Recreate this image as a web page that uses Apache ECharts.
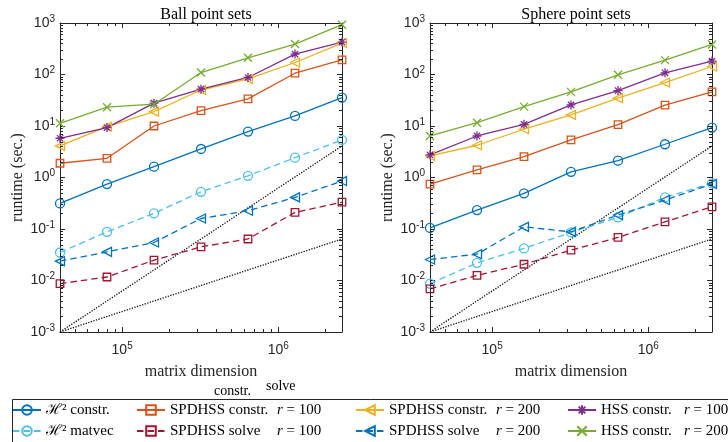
<!DOCTYPE html>
<html><head><meta charset="utf-8">
<script src="https://cdn.jsdelivr.net/npm/echarts@6/dist/echarts.min.js"></script>
<style>html,body{margin:0;padding:0;background:#fff}#c{width:728px;height:442px}</style>
</head><body><div id="c"></div>
<script>
// ---- data ----
const N = [40000, 80000, 160000, 320000, 640000, 1280000, 2560000];
// Ball point sets
const ballH2Constr     = [0.314, 0.746, 1.62, 3.58, 7.78, 15.7, 35.7];
const ballH2Matvec     = [0.035, 0.088, 0.201, 0.528, 1.08, 2.43, 5.36];
const ballSpdConstr100 = [1.89, 2.36, 10.0, 19.9, 33.6, 106, 193];
const ballSpdSolve100  = [0.0087, 0.0117, 0.0248, 0.045, 0.064, 0.21, 0.333];
const ballSpdConstr200 = [4.1, 9.7, 19, 50, 82, 171, 408];
const ballSpdSolve200  = [0.0237, 0.036, 0.0547, 0.16, 0.226, 0.411, 0.853];
const ballHss100       = [5.78, 9.3, 27.8, 52, 87.5, 249, 427];
const ballHss200       = [11.3, 23.2, 26.5, 109, 211, 390, 927];
// Sphere point sets
const sphH2Constr      = [0.105, 0.233, 0.492, 1.29, 2.12, 4.42, 9.3];
const sphH2Matvec      = [0.0087, 0.022, 0.042, 0.0857, 0.168, 0.411, 0.77];
const sphSpdConstr100  = [0.746, 1.40, 2.54, 5.36, 10.6, 25.4, 46];
const sphSpdSolve100   = [0.00686, 0.0126, 0.0207, 0.0388, 0.0685, 0.138, 0.27];
const sphSpdConstr200  = [2.62, 4.23, 8.65, 16.4, 34.7, 69.8, 143];
const sphSpdSolve200   = [0.0256, 0.0324, 0.110, 0.088, 0.186, 0.365, 0.746];
const sphHss100        = [2.74, 6.4, 10.8, 25.7, 48.8, 108, 182];
const sphHss200        = [6.4, 11.6, 23.8, 46, 98.6, 190, 383];
// reference slopes (dotted)
const refX    = [40000, 2560000];
const refQuad = [0.001, 4.096];
const refLin  = [0.001, 0.064];
const titles  = ['Ball point sets', 'Sphere point sets'];
const X_MIN = 40000, X_MAX = 2560000, Y_MIN = 0.001, Y_MAX = 1000;

// ---- styles ----
const SERIF = 'Liberation Serif';
const SANS = 'Liberation Sans';
const AX = '#262626';
const TRI = 'path://M0,5L9,0L9,10Z';
const STAR = 'path://M5,0L5,10M0,5L10,5M1.5,1.5L8.5,8.5M1.5,8.5L8.5,1.5';
const XMARK = 'path://M0,0L10,10M0,10L10,0';

const specs = [
  {name:'H2c',    ball:ballH2Constr,     sph:sphH2Constr,     color:'#0072BD', dash:false, symbol:'circle', size:9},
  {name:'H2m',    ball:ballH2Matvec,     sph:sphH2Matvec,     color:'#4DBEEE', dash:true,  symbol:'circle', size:9},
  {name:'S100c',  ball:ballSpdConstr100, sph:sphSpdConstr100, color:'#D95319', dash:false, symbol:'rect',   size:7.5},
  {name:'S100s',  ball:ballSpdSolve100,  sph:sphSpdSolve100,  color:'#A2142F', dash:true,  symbol:'rect',   size:7.5},
  {name:'S200c',  ball:ballSpdConstr200, sph:sphSpdConstr200, color:'#EDB120', dash:false, symbol:TRI,      size:9},
  {name:'S200s',  ball:ballSpdSolve200,  sph:sphSpdSolve200,  color:'#0072BD', dash:true,  symbol:TRI,      size:9},
  {name:'HSS100', ball:ballHss100,       sph:sphHss100,       color:'#7E2F8E', dash:false, symbol:STAR,     size:9},
  {name:'HSS200', ball:ballHss200,       sph:sphHss200,       color:'#77AC30', dash:false, symbol:XMARK,    size:8}
];
const legendText = {
  H2c: 'ℋ² constr.',
  H2m: 'ℋ² matvec',
  S100c: '{p|SPDHSS constr.}{i|r} = 100',
  S100s: '{p|SPDHSS solve}{i|r} = 100',
  S200c: '{p|SPDHSS constr.}{i|r} = 200',
  S200s: '{p|SPDHSS solve}{i|r} = 200',
  HSS100: '{q|HSS constr.}{i|r} = 100',
  HSS200: '{q|HSS constr.}{i|r} = 200'
};
const legendCols = [['H2c','H2m'],['S100c','S100s'],['S200c','S200s'],['HSS100','HSS200']];
const legendLeft = [12, 136, 355, 567];

function isPow10(v){ const l = Math.log10(v); return Math.abs(l - Math.round(l)) < 1e-6; }
function powLabel(v){ return isPow10(v) ? '10{s|' + Math.round(Math.log10(v)) + '}' : ''; }
const labelRich = { s: {fontSize: 10, lineHeight: 10, verticalAlign: 'top', fontFamily: SANS, color: AX} };

const grids = [
  {left: 60, top: 23, width: 282, height: 309},
  {left: 430, top: 23, width: 282, height: 309}
];
const xAxes = [], yAxes = [];
grids.forEach((g, gi) => {
  ['bottom','top'].forEach((pos, k) => {
    xAxes.push({
      type: 'log', logBase: 10, gridIndex: gi, position: pos, min: X_MIN, max: X_MAX,
      name: k === 0 ? 'matrix dimension' : '', nameLocation: 'middle', nameGap: 26,
      nameTextStyle: {fontFamily: SERIF, fontSize: 16, color: AX},
      axisLine: {show: true, onZero: false, lineStyle: {color: AX, width: 1}},
      axisTick: {show: true, inside: true, length: 5, lineStyle: {color: AX}},
      axisLabel: {show: k === 0, margin: 9, formatter: powLabel, fontFamily: SANS, fontSize: 14, color: AX, lineHeight: 18, rich: labelRich},
      splitLine: {show: false}
    });
  });
  ['left','right'].forEach((pos, k) => {
    yAxes.push({
      type: 'log', logBase: 10, gridIndex: gi, position: pos, min: Y_MIN, max: Y_MAX,
      name: k === 0 ? 'runtime (sec.)' : '', nameLocation: 'middle', nameGap: 34, nameRotate: 90,
      nameTextStyle: {fontFamily: SERIF, fontSize: 16, color: AX},
      axisLine: {show: true, onZero: false, lineStyle: {color: AX, width: 1}},
      axisTick: {show: true, inside: true, length: 5, lineStyle: {color: AX}},
      axisLabel: {show: k === 0, margin: 5, formatter: powLabel, fontFamily: SANS, fontSize: 14, color: AX, lineHeight: 18, rich: labelRich},
      splitLine: {show: false}
    });
  });
});

// minor ticks (log-spaced 2..9) drawn via the axes' own coordinate system
const yMinor = [];
for (let k = -3; k < 3; k++) for (let m = 2; m <= 9; m++) yMinor.push(m * Math.pow(10, k));
const xMinor = [];
for (let k = 4; k < 7; k++) for (let m = 2; m <= 9; m++) { const v = m * Math.pow(10, k); if (v > X_MIN && v < X_MAX) xMinor.push(v); }

function minorSeries(gi) {
  return {
    type: 'custom', xAxisIndex: gi * 2, yAxisIndex: gi * 2, silent: true, clip: false, z: 5,
    data: [[X_MIN, Y_MIN]],
    renderItem: function (params, api) {
      const ch = [];
      const L = api.coord([X_MIN, Y_MIN])[0], R = api.coord([X_MAX, Y_MIN])[0];
      const B = api.coord([X_MIN, Y_MIN])[1], T = api.coord([X_MIN, Y_MAX])[1];
      const st = {stroke: AX, lineWidth: 1};
      yMinor.forEach(v => {
        const y = Math.round(api.coord([X_MIN, v])[1]) + 0.5;
        ch.push({type: 'line', shape: {x1: L, y1: y, x2: L + 3, y2: y}, style: st});
        ch.push({type: 'line', shape: {x1: R, y1: y, x2: R - 3, y2: y}, style: st});
      });
      xMinor.forEach(v => {
        const x = Math.round(api.coord([v, Y_MIN])[0]) + 0.5;
        ch.push({type: 'line', shape: {x1: x, y1: B, x2: x, y2: B - 3}, style: st});
        ch.push({type: 'line', shape: {x1: x, y1: T, x2: x, y2: T + 3}, style: st});
      });
      return {type: 'group', children: ch};
    }
  };
}

const series = [];
grids.forEach((g, gi) => {
  [refQuad, refLin].forEach(ref => {
    series.push({
      type: 'line', xAxisIndex: gi * 2, yAxisIndex: gi * 2, symbol: 'none', silent: true,
      data: refX.map((x, i) => [x, ref[i]]),
      lineStyle: {color: '#111', width: 1.3, type: [1.3, 1.4]}, z: 1
    });
  });
});
specs.forEach(s => {
  [s.ball, s.sph].forEach((vals, gi) => {
    series.push({
      name: s.name, type: 'line', xAxisIndex: gi * 2, yAxisIndex: gi * 2,
      data: N.map((n, i) => [n, vals[i]]),
      symbol: s.symbol, symbolSize: s.size, showSymbol: true, clip: false,
      lineStyle: {color: s.color, width: 1.3, type: s.dash ? [6.5, 4] : 'solid'},
      itemStyle: {color: 'rgba(255,255,255,0)', borderColor: s.color, borderWidth: 1.3},
      emphasis: {disabled: true}, z: 3
    });
  });
});
grids.forEach((g, gi) => series.push(minorSeries(gi)));

const legends = legendCols.map((col, i) => ({
  orient: 'vertical', left: legendLeft[i], top: 402, height: 60, padding: 0,
  itemWidth: 28, itemHeight: 12, itemGap: 5,
  selectedMode: false, data: col,
  formatter: name => legendText[name],
  textStyle: {fontFamily: SERIF, fontSize: 15, color: '#000', lineHeight: 16,
    rich: {p: {fontFamily: SERIF, fontSize: 15, width: 107}, q: {fontFamily: SERIF, fontSize: 15, width: 83},
           i: {fontFamily: SERIF, fontSize: 15, fontStyle: 'italic'}}}
}));

const chart = echarts.init(document.getElementById('c'), null, {renderer: 'canvas'});
chart.setOption({
  backgroundColor: '#fff',
  animation: false,
  title: titles.map((t, i) => ({
    text: t, left: grids[i].left + grids[i].width / 2, top: 2, textAlign: 'center',
    textStyle: {fontFamily: SERIF, fontSize: 16, fontWeight: 'normal', color: '#000'}
  })),
  grid: grids,
  xAxis: xAxes,
  yAxis: yAxes,
  legend: legends,
  graphic: [
    {type: 'rect', left: 10, top: 397, shape: {width: 760, height: 80}, style: {fill: 'none', stroke: AX, lineWidth: 1}, z: -1},
    {type: 'text', left: 214, top: 384, style: {text: 'constr.', font: '14px "Liberation Serif"', fill: '#000'}},
    {type: 'text', left: 266, top: 379, style: {text: 'solve', font: '14px "Liberation Serif"', fill: '#000'}}
  ],
  series: series
});
</script></body></html>
